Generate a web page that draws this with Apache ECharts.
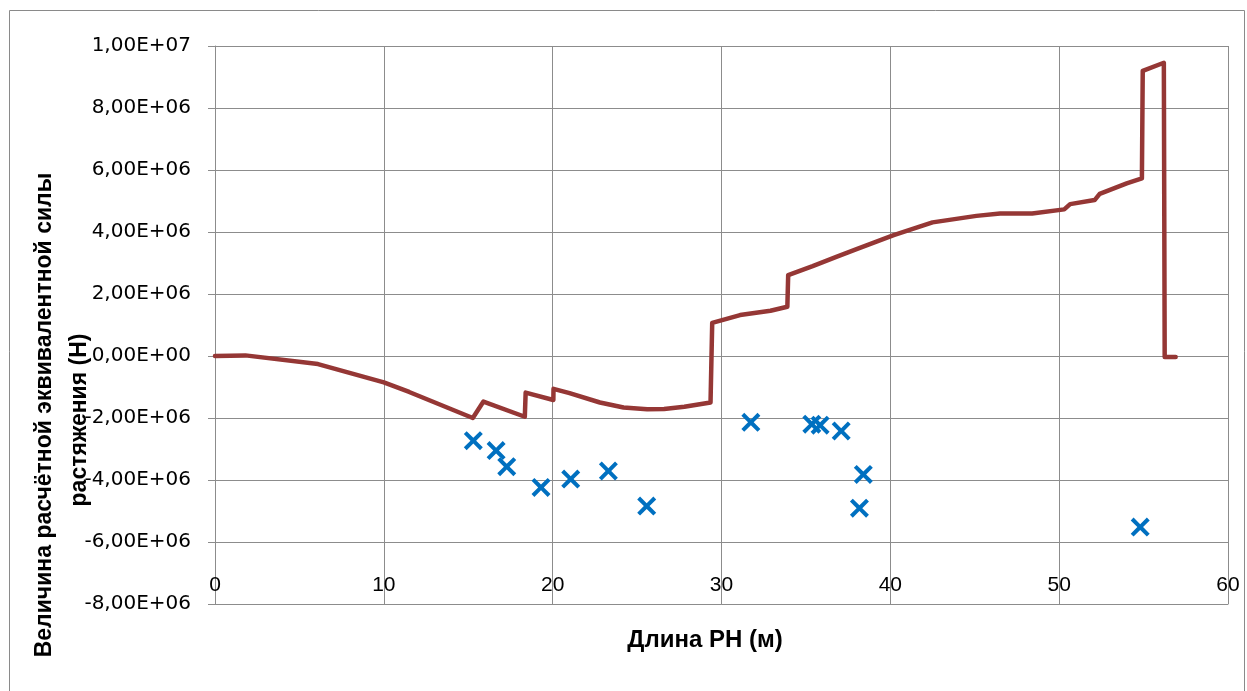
<!DOCTYPE html>
<html>
<head>
<meta charset="utf-8">
<script src="https://cdn.jsdelivr.net/npm/echarts@6/dist/echarts.min.js"></script>
<style>
html,body{margin:0;padding:0;background:#fff;}
#chart{width:1247px;height:691px;}
</style>
</head>
<body>
<div id="chart"></div>
<script>
// Line series: length (m) and force (N)
var lineX = [0, 1.8, 6.1, 10.0, 11.5, 15.27, 15.9, 18.35, 18.4, 20.04, 20.05, 21.0, 22.8, 24.2, 25.6, 26.6, 27.8, 29.35, 29.45, 31.1, 32.9, 33.9, 33.95, 35.4, 36.8, 38.0, 40.2, 42.5, 45.1, 46.5, 48.4, 50.3, 50.65, 52.1, 52.4, 54.0, 54.9, 54.95, 56.2, 56.25, 56.9];
var lineY = [0, 0.02e6, -0.26e6, -0.85e6, -1.16e6, -2.0e6, -1.47e6, -1.96e6, -1.18e6, -1.42e6, -1.06e6, -1.2e6, -1.5e6, -1.66e6, -1.72e6, -1.71e6, -1.64e6, -1.5e6, 1.07e6, 1.32e6, 1.46e6, 1.59e6, 2.61e6, 2.9e6, 3.2e6, 3.45e6, 3.9e6, 4.31e6, 4.52e6, 4.6e6, 4.6e6, 4.73e6, 4.9e6, 5.03e6, 5.23e6, 5.57e6, 5.73e6, 9.2e6, 9.46e6, -0.03e6, -0.03e6];
// Scatter series (markers)
var ptsX = [15.3, 16.65, 17.28, 19.31, 21.07, 23.3, 25.57, 31.74, 35.35, 35.84, 37.09, 38.4, 38.17, 54.8];
var ptsY = [-2.73e6, -3.05e6, -3.57e6, -4.24e6, -3.97e6, -3.71e6, -4.84e6, -2.14e6, -2.2e6, -2.23e6, -2.42e6, -3.82e6, -4.91e6, -5.52e6];
// Axis ticks
var xTicks = [0, 10, 20, 30, 40, 50, 60];
var yTicks = [-8e6, -6e6, -4e6, -2e6, 0, 2e6, 4e6, 6e6, 8e6, 1e7];
var yTitle1 = 'Величина расчётной эквивалентной силы';
var yTitle2 = 'растяжения (Н)';
var xTitle = 'Длина РН (м)';

function fmtE(v) {
  var s = Number(v).toExponential(2);
  var parts = s.split('e');
  var mant = parts[0].replace('.', ',');
  var exp = parseInt(parts[1], 10);
  var sign = exp < 0 ? '-' : '+';
  var e = Math.abs(exp);
  return mant + 'E' + sign + (e < 10 ? '0' + e : '' + e);
}

var lineData = lineX.map(function (x, i) { return [x, lineY[i]]; });
var ptsData = ptsX.map(function (x, i) { return [x, ptsY[i]]; });

var gridColor = '#8c8c8c';
var xShape = 'path://M0,1.5 L1.5,0 L5,3.5 L8.5,0 L10,1.5 L6.5,5 L10,8.5 L8.5,10 L5,6.5 L1.5,10 L0,8.5 L3.5,5 Z';

var chart = echarts.init(document.getElementById('chart'), null, {renderer: 'canvas'});
chart.setOption({
  animation: false,
  backgroundColor: '#ffffff',
  grid: {left: 215, right: 19, top: 46, bottom: 87, containLabel: false},
  xAxis: {
    type: 'value',
    min: xTicks[0], max: xTicks[xTicks.length - 1], interval: 10,
    axisLine: {show: true, onZero: false, lineStyle: {color: gridColor, width: 1}},
    axisTick: {show: false},
    splitLine: {show: true, lineStyle: {color: gridColor, width: 1}},
    axisLabel: {
      inside: true, margin: 8, color: '#000',
      fontFamily: '"Liberation Sans Narrow", "Liberation Sans", sans-serif', fontSize: 21
    }
  },
  yAxis: {
    type: 'value',
    min: yTicks[0], max: yTicks[yTicks.length - 1], interval: 2e6,
    axisLine: {show: true, onZero: false, lineStyle: {color: gridColor, width: 1}},
    axisTick: {show: true, length: 7, lineStyle: {color: gridColor}},
    splitLine: {show: true, lineStyle: {color: gridColor, width: 1}},
    axisLabel: {
      margin: 24, color: '#000', formatter: fmtE,
      fontFamily: '"DejaVu Sans", sans-serif', fontSize: 20
    }
  },
  graphic: [
    {type: 'rect', shape: {x: 9.5, y: 10.5, width: 1235, height: 700}, style: {fill: 'none', stroke: '#8a8a8a', lineWidth: 1}, z: -1, silent: true},
    {type: 'text', x: 45, y: 415, rotation: Math.PI / 2, style: {text: yTitle1, fill: '#000', font: 'bold 23px "Liberation Sans", sans-serif', textAlign: 'center', textVerticalAlign: 'middle'}},
    {type: 'text', x: 80, y: 420, rotation: Math.PI / 2, style: {text: yTitle2, fill: '#000', font: 'bold 23px "Liberation Sans", sans-serif', textAlign: 'center', textVerticalAlign: 'middle'}},
    {type: 'text', x: 705, y: 640, style: {text: xTitle, fill: '#000', font: 'bold 24px "Liberation Sans", sans-serif', textAlign: 'center', textVerticalAlign: 'middle'}}
  ],
  series: [
    {
      type: 'line', data: lineData, showSymbol: false, symbol: 'none', smooth: false,
      lineStyle: {color: '#953735', width: 4.5, join: 'round', cap: 'round'}, z: 3
    },
    {
      type: 'scatter', data: ptsData, symbol: xShape, symbolSize: 19,
      itemStyle: {color: '#0070c0', opacity: 1}, z: 4
    }
  ]
});
</script>
</body>
</html>
